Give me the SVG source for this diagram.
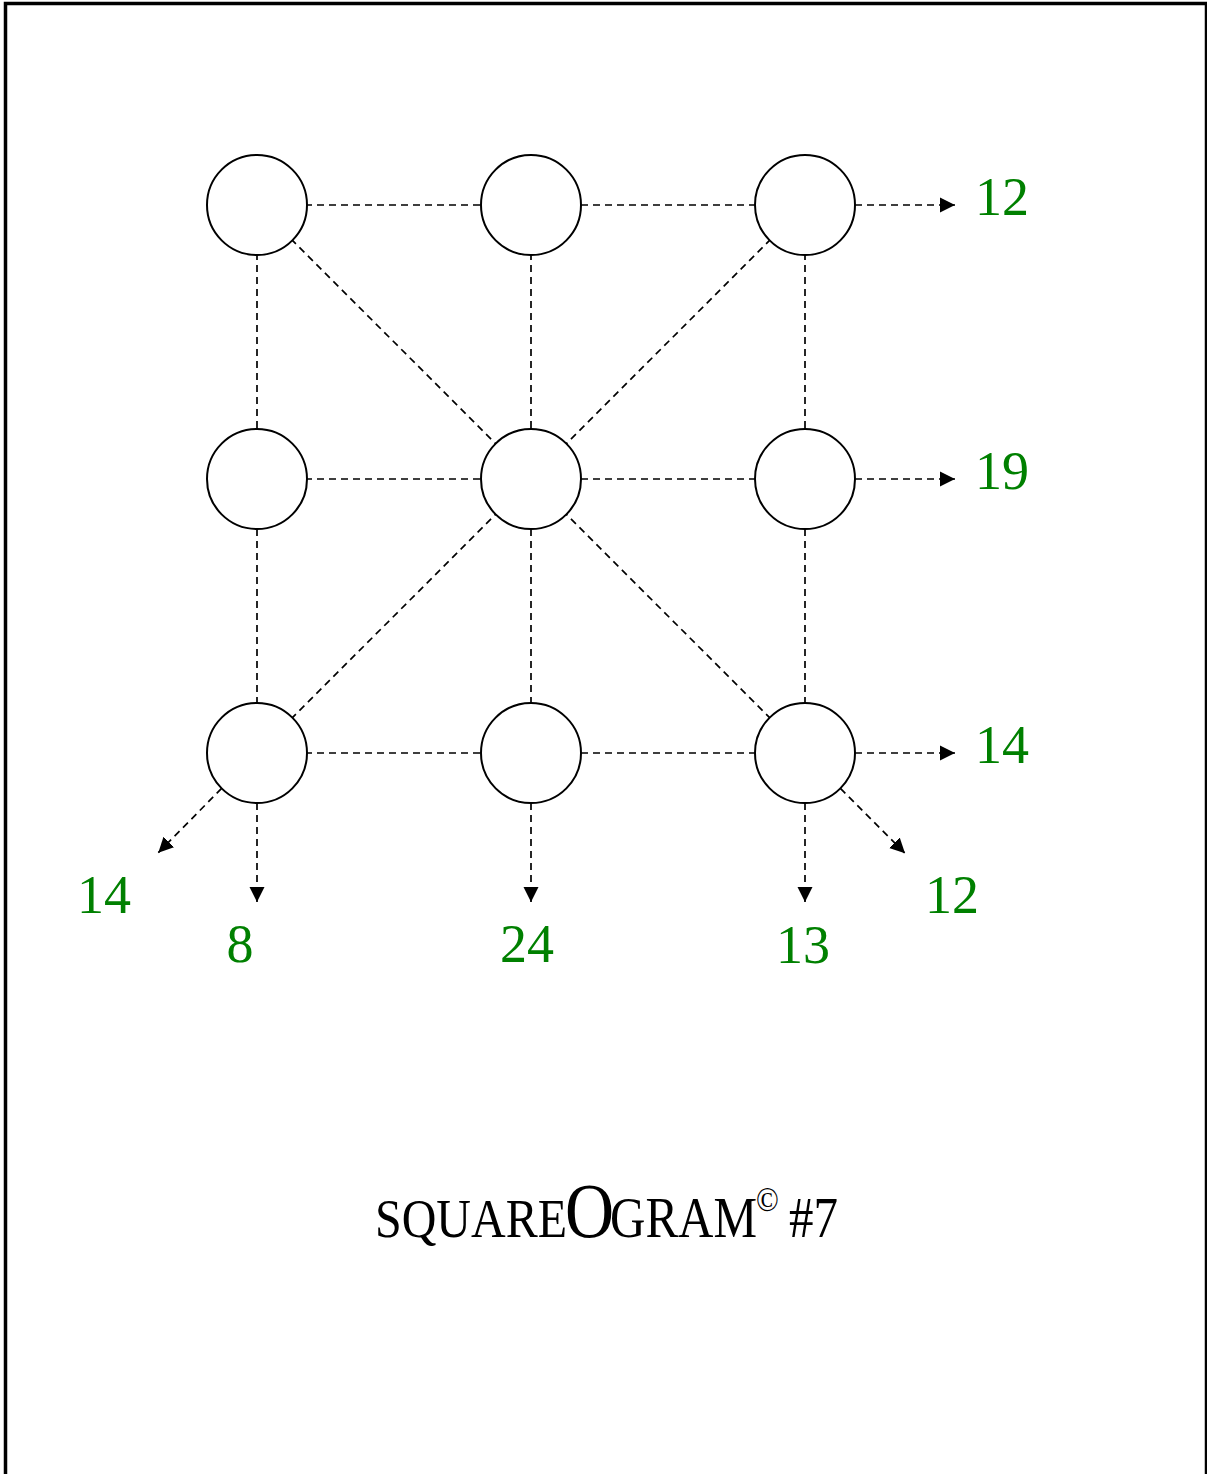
<svg xmlns="http://www.w3.org/2000/svg" width="1207" height="1474" viewBox="0 0 1207 1474">
<style>
.node{fill:#fff;stroke:#000;stroke-width:2}
.edge{fill:none;stroke:#000;stroke-width:1.7;stroke-dasharray:7 5}
.num{font-family:"Liberation Serif","Times New Roman",serif;font-size:54px;fill:#008000}
.title{font-family:"Liberation Serif","Times New Roman",serif;fill:#000}
</style>
<defs>
<marker id="arr" markerUnits="userSpaceOnUse" markerWidth="16" markerHeight="16" refX="15" refY="8" orient="auto" viewBox="0 0 16 16">
<path d="M0,0.5 L15,8 L0,15.5 Z" fill="#000"/>
</marker>
</defs>
<rect x="5.5" y="3.5" width="1201" height="1520" fill="#fff" stroke="#000" stroke-width="3.5"/>
<g id="connectors">
<line class="edge" x1="257" y1="205" x2="805" y2="205"/>
<line class="edge" x1="257" y1="479" x2="805" y2="479"/>
<line class="edge" x1="257" y1="753" x2="805" y2="753"/>
<line class="edge" x1="257" y1="205" x2="257" y2="753"/>
<line class="edge" x1="531" y1="205" x2="531" y2="753"/>
<line class="edge" x1="805" y1="205" x2="805" y2="753"/>
<line class="edge" x1="257" y1="205" x2="805" y2="753"/>
<line class="edge" x1="805" y1="205" x2="257" y2="753"/>
<line class="edge" x1="855" y1="205" x2="955" y2="205" marker-end="url(#arr)"/>
<line class="edge" x1="855" y1="479" x2="955" y2="479" marker-end="url(#arr)"/>
<line class="edge" x1="855" y1="753" x2="955" y2="753" marker-end="url(#arr)"/>
<line class="edge" x1="257" y1="803" x2="257" y2="902" marker-end="url(#arr)"/>
<line class="edge" x1="531" y1="803" x2="531" y2="902" marker-end="url(#arr)"/>
<line class="edge" x1="805" y1="803" x2="805" y2="902" marker-end="url(#arr)"/>
<line class="edge" x1="221.6" y1="788.4" x2="158.3" y2="852.7" marker-end="url(#arr)"/>
<line class="edge" x1="840.4" y1="788.4" x2="905" y2="853.3" marker-end="url(#arr)"/>
</g>
<g id="n11"><circle class="node" cx="257" cy="205" r="50"/></g>
<g id="n12"><circle class="node" cx="531" cy="205" r="50"/></g>
<g id="n13"><circle class="node" cx="805" cy="205" r="50"/></g>
<g id="n21"><circle class="node" cx="257" cy="479" r="50"/></g>
<g id="n22"><circle class="node" cx="531" cy="479" r="50"/></g>
<g id="n23"><circle class="node" cx="805" cy="479" r="50"/></g>
<g id="n31"><circle class="node" cx="257" cy="753" r="50"/></g>
<g id="n32"><circle class="node" cx="531" cy="753" r="50"/></g>
<g id="n33"><circle class="node" cx="805" cy="753" r="50"/></g>
<g id="labels">
<text class="num" x="975" y="215">12</text>
<text class="num" x="975" y="489">19</text>
<text class="num" x="975" y="763">14</text>
<text class="num" x="77" y="913">14</text>
<text class="num" x="240" y="962" text-anchor="middle">8</text>
<text class="num" x="500" y="962">24</text>
<text class="num" x="776" y="963">13</text>
<text class="num" x="925" y="913">12</text>
</g>
<g id="title" transform="translate(0,1237) scale(1,1.15)">
<text class="title" x="375" y="0" font-size="48">SQUARE</text>
<text class="title" x="565" y="0" font-size="68">O</text>
<text class="title" x="610" y="0" font-size="49">GRAM</text>
<text class="title" x="756" y="-23" font-size="30">©</text>
<text class="title" x="789" y="0" font-size="49">#7</text>
</g>
</svg>
